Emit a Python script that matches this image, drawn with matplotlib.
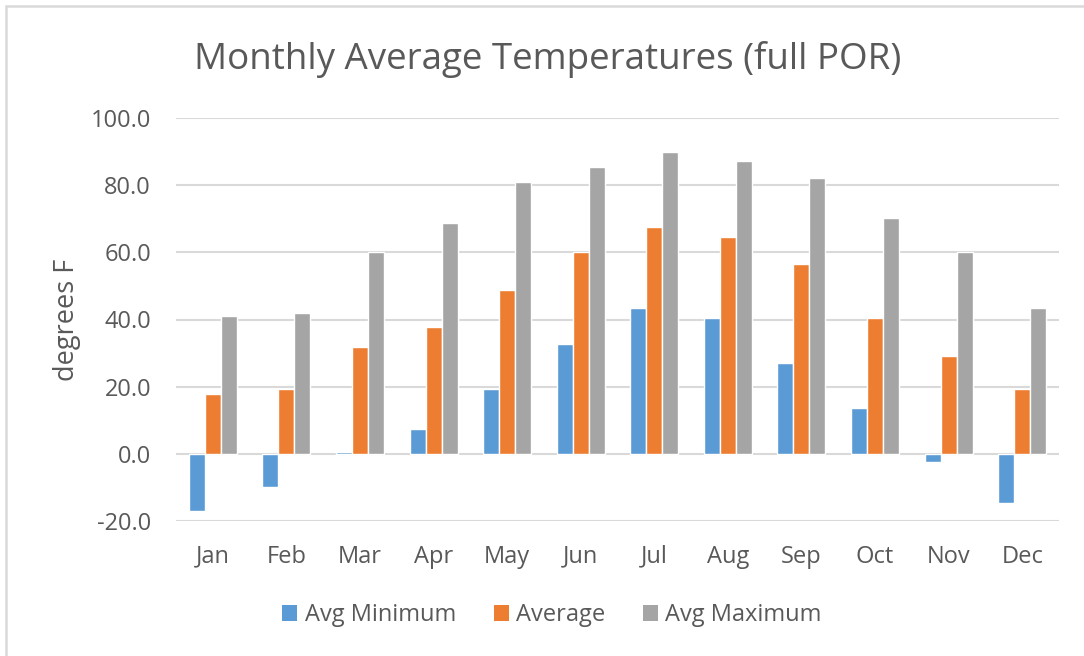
import matplotlib
matplotlib.use("Agg")
import matplotlib.pyplot as plt
import numpy as np
from matplotlib.patches import Rectangle

months = ["Jan", "Feb", "Mar", "Apr", "May", "Jun", "Jul", "Aug", "Sep", "Oct", "Nov", "Dec"]
avg_min = [-17.1, -9.8, 0.6, 7.4, 19.2, 32.6, 43.5, 40.4, 27.0, 13.6, -2.4, -14.6]
average = [17.9, 19.2, 31.8, 37.9, 48.7, 60.0, 67.4, 64.7, 56.5, 40.4, 29.2, 19.2]
avg_max = [40.9, 41.8, 60.0, 68.7, 80.8, 85.5, 89.9, 87.3, 82.1, 70.3, 60.0, 43.5]
series_names = ["Avg Minimum", "Average", "Avg Maximum"]
colors = ["#5B9BD5", "#ED7D31", "#A5A5A5"]
yticks = [-20, 0, 20, 40, 60, 80, 100]

FONT = "Open Sans"
TXT = "#595959"
plt.rcParams["font.family"] = [FONT, "DejaVu Sans"]

W, H = 1084, 656
fig = plt.figure(figsize=(W / 100, H / 100), dpi=100)
fig.patch.set_facecolor("white")

# chart border (top and left visible)
fig.add_artist(Rectangle((6 / W, -0.1), 1.2, 1 - 6 / H + 0.1, transform=fig.transFigure,
                         fill=False, edgecolor="#D9D9D9", linewidth=1.8))

ax = fig.add_axes([176 / W, 1 - 521 / H, (1059 - 176) / W, (521 - 118) / H])
x = np.arange(len(months))
bw = 0.2174
for i, (vals, name, c) in enumerate(zip([avg_min, average, avg_max], series_names, colors)):
    ax.bar(x + (i - 1) * bw, vals, width=bw, color=c, edgecolor="white", linewidth=1.0,
           label=name, zorder=3)

ax.set_xlim(-0.5, len(months) - 0.5)
ax.set_ylim(-20, 100)
ax.set_yticks(yticks)
ax.set_yticklabels([f"{v:.1f}" for v in yticks], fontsize=17, color=TXT)
ax.set_xticks(x)
ax.set_xticklabels(months, fontsize=17, color=TXT)
ax.tick_params(axis="both", length=0)
ax.tick_params(axis="y", pad=18)
ax.tick_params(axis="x", pad=17)
ax.grid(axis="y", color="#D9D9D9", linewidth=1.5, zorder=0)
for s in ax.spines.values():
    s.set_visible(False)

ax.set_ylabel("degrees F", fontsize=19.5, color=TXT, labelpad=7)

fig.text(548 / W, 1 - 60 / H, "Monthly Average Temperatures (full POR)", ha="center", va="center",
         fontsize=26.5, color=TXT)

leg = fig.legend(loc="center", bbox_to_anchor=(552 / W, 1 - 615 / H), ncol=3, frameon=False,
                 fontsize=17, handlelength=0.65, handleheight=0.65, handletextpad=0.3,
                 columnspacing=1.6, labelcolor=TXT)
for h in leg.legend_handles:
    h.set_edgecolor("none")

fig.savefig("out.png", dpi=100, facecolor="white")
